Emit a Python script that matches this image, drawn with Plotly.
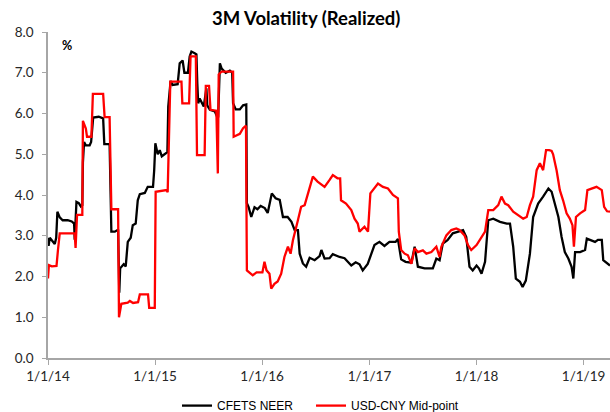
import plotly.graph_objects as go

neer_dates = [
    "2014-01-01","2014-01-03","2014-01-07","2014-01-17","2014-01-24","2014-01-29","2014-02-02","2014-02-10",
    "2014-02-20","2014-03-09","2014-03-23","2014-03-31","2014-04-02","2014-04-08","2014-04-16","2014-04-23",
    "2014-04-28","2014-04-30","2014-05-04","2014-05-10","2014-05-23","2014-05-28","2014-06-04","2014-06-23",
    "2014-07-08","2014-07-12","2014-07-30","2014-08-05","2014-08-17","2014-08-28","2014-09-01","2014-09-04",
    "2014-09-16","2014-09-23","2014-09-30","2014-10-10","2014-10-17","2014-10-27","2014-11-03","2014-11-10",
    "2014-11-27","2014-12-07","2014-12-25","2014-12-29","2015-01-02","2015-01-10","2015-01-17","2015-01-24",
    "2015-02-03","2015-02-12","2015-02-15","2015-02-23","2015-03-02","2015-03-19","2015-03-26","2015-04-05",
    "2015-04-11","2015-04-23","2015-04-29","2015-05-05","2015-05-16","2015-05-22","2015-05-25","2015-05-28",
    "2015-06-02","2015-06-09","2015-06-16","2015-06-25","2015-06-28","2015-07-07","2015-07-24","2015-07-31",
    "2015-08-04","2015-08-10","2015-08-16","2015-08-30","2015-09-13","2015-09-21","2015-09-24","2015-10-03",
    "2015-10-17","2015-10-28","2015-11-08","2015-11-10","2015-11-16","2015-11-25","2015-12-06","2015-12-16",
    "2015-12-27","2016-01-10","2016-01-20","2016-02-03","2016-02-16","2016-03-01","2016-03-12","2016-03-28",
    "2016-04-10","2016-04-21","2016-05-02","2016-05-08","2016-05-19","2016-05-30","2016-06-11","2016-06-28",
    "2016-07-15","2016-07-21","2016-08-01","2016-08-18","2016-08-29","2016-09-21","2016-10-08","2016-10-31",
    "2016-11-15","2016-11-28","2016-12-09","2016-12-26","2017-01-08","2017-01-18","2017-02-04","2017-02-21",
    "2017-03-10","2017-03-31","2017-04-08","2017-04-19","2017-05-04","2017-05-24","2017-06-04","2017-06-15",
    "2017-07-08","2017-08-05","2017-08-17","2017-08-28","2017-09-08","2017-09-24","2017-10-12","2017-10-28",
    "2017-11-16","2017-11-27","2017-12-08","2017-12-19","2018-01-01","2018-01-09","2018-01-18","2018-01-30",
    "2018-02-10","2018-02-27","2018-03-22","2018-04-14","2018-04-25","2018-05-06","2018-05-15","2018-05-29",
    "2018-06-07","2018-06-18","2018-07-02","2018-07-13","2018-07-30","2018-08-16","2018-09-03","2018-09-14",
    "2018-09-25","2018-10-07","2018-10-18","2018-10-29","2018-11-10","2018-11-21","2018-11-27","2018-12-03",
    "2018-12-20","2019-01-06","2019-01-12","2019-01-29","2019-02-09","2019-02-19","2019-03-04","2019-03-09",
    "2019-03-22","2019-04-01",
]
neer_values = [
    2.95, 2.75, 2.95, 2.85, 2.80, 2.95, 3.59, 3.45,
    3.38, 3.38, 3.35, 3.30, 2.90, 3.83, 3.80, 3.72,
    3.75, 4.80, 5.30, 5.22, 5.22, 5.30, 5.90, 5.92,
    5.88, 5.25, 5.25, 3.10, 3.10, 3.15, 1.60, 2.20,
    2.30, 2.25, 2.85, 2.95, 3.26, 3.30, 3.87, 4.02,
    4.05, 4.20, 4.20, 4.60, 5.27, 5.00, 5.10, 4.95,
    5.00, 5.05, 6.17, 6.80, 6.70, 6.72, 7.23, 7.30,
    7.00, 7.00, 7.40, 7.52, 7.48, 7.45, 6.74, 6.25,
    6.37, 6.25, 6.17, 6.62, 6.20, 6.09, 6.05, 5.93,
    5.90, 7.23, 7.10, 7.00, 7.05, 7.00, 6.25, 6.10,
    6.10, 6.20, 6.22, 3.80, 3.70, 3.46, 3.70, 3.65,
    3.73, 3.68, 3.56, 4.04, 3.92, 3.88, 3.46, 3.46,
    3.34, 3.14, 3.14, 2.56, 2.32, 2.24, 2.46, 2.40,
    2.50, 2.65, 2.44, 2.45, 2.55, 2.48, 2.45, 2.27,
    2.35, 2.30, 2.15, 2.31, 2.60, 2.77, 2.85, 2.75,
    2.85, 2.85, 2.92, 2.42, 2.36, 2.34, 2.73, 2.24,
    2.20, 2.20, 2.44, 2.40, 2.81, 2.89, 3.06, 3.10,
    3.14, 2.97, 2.24, 2.15, 2.27, 2.20, 2.07, 2.36,
    3.38, 3.42, 3.34, 3.30, 3.30, 2.73, 1.95, 1.87,
    1.74, 1.90, 2.56, 3.46, 3.79, 3.96, 4.16, 4.08,
    3.77, 3.46, 2.97, 2.60, 2.44, 2.24, 1.95, 2.60,
    2.60, 2.65, 2.93, 2.88, 2.85, 2.90, 2.90, 2.40,
    2.33, 2.27,
]

cny_dates = [
    "2014-01-01","2014-01-04","2014-01-14","2014-01-30","2014-02-04","2014-02-10","2014-04-02","2014-04-05",
    "2014-04-10","2014-04-28","2014-04-30","2014-05-10","2014-05-14","2014-05-29","2014-06-03","2014-07-08",
    "2014-07-13","2014-07-30","2014-08-05","2014-08-28","2014-08-31","2014-09-08","2014-09-30","2014-10-07",
    "2014-10-18","2014-11-04","2014-11-10","2014-12-08","2014-12-12","2014-12-31","2015-01-03","2015-01-17",
    "2015-02-09","2015-02-13","2015-02-17","2015-02-22","2015-04-01","2015-04-04","2015-04-27","2015-05-02",
    "2015-05-20","2015-05-24","2015-06-19","2015-06-23","2015-07-04","2015-07-09","2015-07-29","2015-08-03",
    "2015-08-06","2015-08-16","2015-09-24","2015-09-26","2015-10-17","2015-10-28","2015-11-07","2015-11-10",
    "2015-11-30","2015-12-13","2016-01-02","2016-01-09","2016-01-16","2016-01-26","2016-02-01","2016-02-12",
    "2016-02-23","2016-03-06","2016-03-17","2016-03-29","2016-04-07","2016-04-15","2016-05-02","2016-05-13",
    "2016-05-25","2016-06-05","2016-06-22","2016-07-08","2016-08-01","2016-08-18","2016-08-29","2016-09-14",
    "2016-09-23","2016-09-26","2016-10-13","2016-10-31","2016-11-11","2016-11-22","2016-11-28","2016-12-15",
    "2016-12-27","2017-01-04","2017-01-13","2017-01-30","2017-02-16","2017-03-05","2017-03-22","2017-04-08",
    "2017-04-11","2017-04-19","2017-05-01","2017-05-12","2017-05-24","2017-06-04","2017-06-15","2017-07-02",
    "2017-07-14","2017-07-31","2017-08-17","2017-08-28","2017-09-03","2017-09-20","2017-10-07","2017-10-24",
    "2017-11-04","2017-11-21","2017-12-03","2017-12-14","2018-01-01","2018-01-18","2018-01-30","2018-02-10",
    "2018-02-27","2018-03-16","2018-03-27","2018-04-08","2018-04-19","2018-05-06","2018-05-29","2018-06-09",
    "2018-06-21","2018-07-02","2018-07-13","2018-07-19","2018-07-25","2018-08-05","2018-08-16","2018-08-26",
    "2018-09-06","2018-09-14","2018-09-19","2018-10-01","2018-10-12","2018-10-23","2018-11-04","2018-11-15",
    "2018-11-24","2018-11-29","2018-12-06","2018-12-20","2019-01-06","2019-01-14","2019-01-29","2019-02-14",
    "2019-03-04","2019-03-12","2019-03-22","2019-04-01",
]
cny_values = [
    1.95, 2.28, 2.25, 2.26, 2.65, 3.06, 3.06, 2.70,
    3.51, 3.51, 5.82, 5.63, 5.43, 5.43, 6.48, 6.48,
    5.91, 5.91, 3.65, 3.65, 1.00, 1.33, 1.36, 1.40,
    1.35, 1.37, 1.56, 1.56, 1.23, 1.23, 4.08, 4.10,
    4.12, 4.07, 5.68, 6.78, 6.78, 6.25, 6.25, 7.40,
    7.40, 4.98, 4.98, 6.68, 6.68, 6.09, 6.07, 4.53,
    6.96, 7.03, 7.03, 5.43, 5.50, 5.64, 5.70, 2.15,
    2.03, 2.10, 2.10, 2.36, 2.15, 2.07, 1.70, 1.82,
    1.88, 2.07, 2.48, 2.73, 2.56, 2.89, 3.38, 3.71,
    3.75, 4.04, 4.45, 4.33, 4.20, 4.37, 4.49, 4.41,
    4.41, 3.87, 3.79, 3.63, 3.42, 3.30, 3.10, 3.22,
    3.10, 4.04, 4.12, 4.28, 4.20, 4.16, 4.00, 3.92,
    3.10, 2.65, 2.56, 2.52, 2.31, 2.69, 2.60, 2.64,
    2.56, 2.60, 2.73, 2.48, 2.73, 3.01, 3.14, 3.18,
    3.14, 3.01, 2.77, 2.65, 2.77, 2.97, 3.10, 3.63,
    3.63, 3.75, 3.96, 3.79, 3.75, 3.59, 3.46, 3.42,
    3.46, 3.75, 3.96, 4.28, 4.61, 4.78, 4.61, 5.10,
    5.10, 5.08, 5.00, 4.60, 4.12, 3.87, 3.55, 3.42,
    3.26, 2.73, 3.46, 3.55, 3.63, 4.12, 4.16, 4.20,
    4.12, 3.71, 3.60, 3.59,
]

series_names = ["CFETS NEER", "USD-CNY Mid-point"]
title_text = "3M Volatility (Realized)"
unit_label = "%"

fig = go.Figure()
fig.add_trace(go.Scatter(x=neer_dates, y=neer_values, mode="lines", name=series_names[0],
                         line=dict(color="#000000", width=2.3), legend="legend"))
fig.add_trace(go.Scatter(x=cny_dates, y=cny_values, mode="lines", name=series_names[1],
                         line=dict(color="#ff0000", width=2.3), legend="legend2"))

axis_font = dict(family="Lato, 'Open Sans', sans-serif", size=13.5, color="#262626")
legend_font = dict(family="'Liberation Sans', Arial, sans-serif", size=12, color="#000000")

fig.update_layout(
    width=610, height=412,
    margin=dict(l=48, r=0, t=32, b=54, autoexpand=False),
    paper_bgcolor="white", plot_bgcolor="white",
    title=dict(text="<b>" + title_text + "</b>", x=0.502, xanchor="center", y=0.955, yanchor="middle",
               yref="container", font=dict(family="Lato, 'Open Sans', sans-serif", size=18.5, color="#000000")),
    showlegend=True,
    legend=dict(orientation="h", x=0.2295, xanchor="left", y=-0.146, yanchor="middle",
                font=legend_font, bgcolor="rgba(0,0,0,0)"),
    legend2=dict(orientation="h", x=0.468, xanchor="left", y=-0.146, yanchor="middle",
                 font=legend_font, bgcolor="rgba(0,0,0,0)"),
    xaxis=dict(type="date", range=["2014-01-01", "2019-04-01"], dtick="M12", tick0="2014-01-01",
               tickformat="%-m/%-d/%y", showgrid=False, showline=True, linecolor="#a6a6a6", linewidth=1.5,
               ticks="outside", ticklen=5, tickcolor="#a6a6a6", tickfont=axis_font, zeroline=False,
               automargin=False),
    yaxis=dict(range=[0, 8], dtick=1, tickformat=".1f", showgrid=False, showline=True,
               linecolor="#a6a6a6", linewidth=1.5, ticks="outside", ticklen=4, tickcolor="#a6a6a6",
               tickfont=axis_font, zeroline=False, automargin=False, ticklabelstandoff=6),
    annotations=[dict(text="<b>" + unit_label + "</b>", xref="paper", yref="paper", x=0.033, y=0.96,
                      xanchor="center", yanchor="middle", showarrow=False,
                      font=dict(family="Lato, 'Open Sans', sans-serif", size=12.5, color="#000000"))],
)

fig.write_html("out.html", config={"displayModeBar": False},
               post_script="document.body.style.margin='0';document.body.style.overflow='hidden';")
